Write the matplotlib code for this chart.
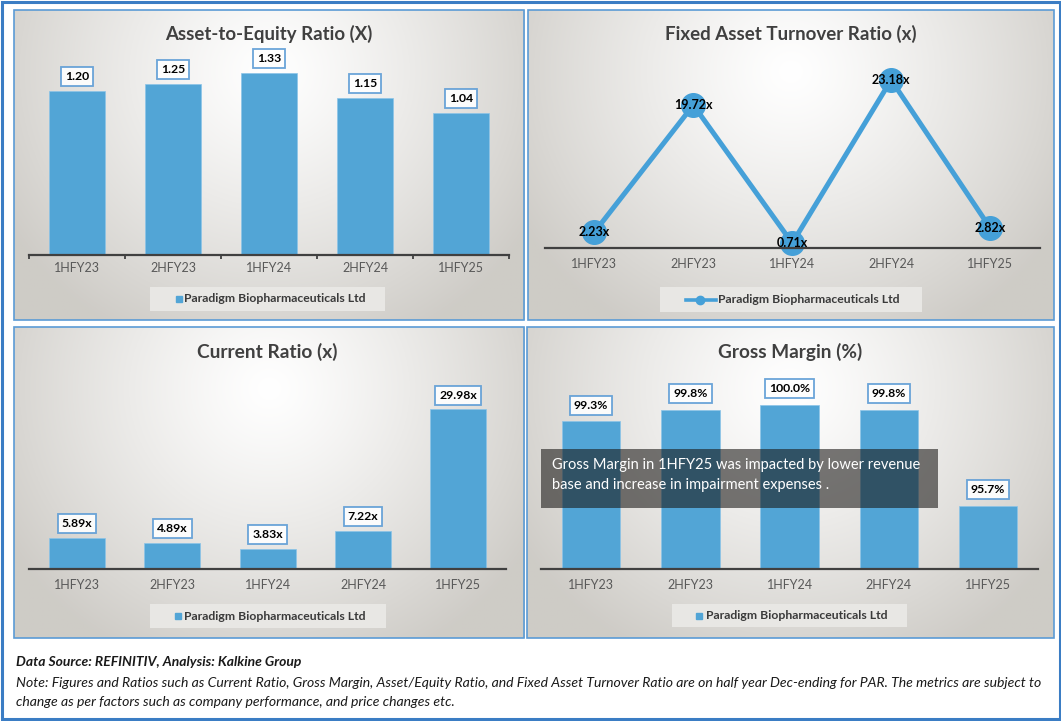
import numpy as np
import matplotlib
matplotlib.use("Agg")
from matplotlib import pyplot as plt
from matplotlib.patches import Rectangle
from matplotlib.lines import Line2D

plt.rcParams['font.family'] = ['Lato', 'DejaVu Sans']

# data
periods = ["1HFY23", "2HFY23", "1HFY24", "2HFY24", "1HFY25"]
asset_equity = [1.20, 1.25, 1.33, 1.15, 1.04]
fixed_asset_turnover = [2.23, 19.72, 0.71, 23.18, 2.82]
current_ratio = [5.89, 4.89, 3.83, 7.22, 29.98]
gross_margin = [99.3, 99.8, 100.0, 99.8, 95.7]
company = "Paradigm Biopharmaceuticals Ltd"
titles = ["Asset-to-Equity Ratio (X)", "Fixed Asset Turnover Ratio (x)",
          "Current Ratio (x)", "Gross Margin (%)"]
gm_note = ["Gross Margin in 1HFY25 was impacted by lower revenue",
           "base and increase in impairment expenses ."]
source_txt = "Data Source: REFINITIV, Analysis: Kalkine Group"
note_txt = ["Note: Figures and Ratios such as Current Ratio, Gross Margin, Asset/Equity Ratio, "
            "and Fixed Asset Turnover Ratio are on half year Dec-ending for PAR. The metrics are subject to",
            "change as per factors such as company performance, and price changes etc."]

W, H = 1061, 721
BLUE = "#52A5D6"
LINE_BLUE = "#45A0D8"
BOX_EDGE = "#5B9BD5"
AXIS_GREY = "#404040"
TXT_GREY = "#595959"

fig = plt.figure(figsize=(W / 100, H / 100), dpi=100)
fig.patch.set_facecolor("white")
renderer = fig.canvas.get_renderer()


def rect(x0, y0, x1, y1):
    # pixel box (top-left origin) -> figure fraction
    return [x0 / W, 1 - y1 / H, (x1 - x0) / W, (y1 - y0) / H]


def fx(x):
    return x / W


def fy(y):
    return 1 - y / H


def fit_width(t, width_px):
    w = t.get_window_extent(renderer).width
    t.set_fontsize(t.get_fontsize() * width_px / w)


# soft radial background like the excel chart fill
yy, xx = np.mgrid[0:1:240j, 0:1:320j]
d = np.sqrt(((xx - 0.5) / 0.6) ** 2 + ((yy - 0.2) / 0.95) ** 2)
d = np.clip(d, 0, 1) ** 1.2
edge = np.array([0.81, 0.80, 0.78])
grad = 1 - (1 - edge) * d[..., None]

panels = [(13.5, 9.5, 524, 320), (528, 9.5, 1054, 320),
          (13.5, 327, 524, 638), (527, 327, 1054, 638)]
for p in panels:
    bg = fig.add_axes(rect(*p), zorder=0)
    bg.imshow(grad, extent=[0, 1, 0, 1], aspect="auto", origin="upper")
    bg.axis("off")
    fig.patches.append(Rectangle((fx(p[0]), fy(p[3])), fx(p[2] - p[0]), (p[3] - p[1]) / H,
                                 transform=fig.transFigure, fill=False,
                                 ec=BOX_EDGE, lw=1.2, zorder=2))

# outer frame
fig.patches.append(Rectangle((fx(1.5), fy(719)), fx(1058), 717.5 / H,
                             transform=fig.transFigure, fill=False,
                             ec="#3B7DC4", lw=2.2, zorder=2))


def style_axis(ax, pad=6):
    ax.set_facecolor("none")
    for s in ["left", "right", "top"]:
        ax.spines[s].set_visible(False)
    ax.spines["bottom"].set_color(AXIS_GREY)
    ax.spines["bottom"].set_linewidth(1.6)
    ax.set_yticks([])
    ax.set_xlim(-0.5, 4.5)
    ax.set_xticks(range(len(periods)))
    ax.set_xticklabels(periods, fontsize=9, color=TXT_GREY)
    ax.tick_params(axis="x", length=0, pad=pad)


def bar_labels(ax, values, fmt, off):
    for i, v in enumerate(values):
        ax.annotate(fmt.format(v), xy=(i, v), xytext=(0, off), textcoords="offset points",
                    ha="center", va="center", fontsize=8.8, fontweight="bold", color="black",
                    bbox=dict(boxstyle="square,pad=0.33", fc="white", alpha=0.9,
                              ec=BOX_EDGE, lw=1.3), annotation_clip=False)


# Asset-to-Equity
ax1 = fig.add_axes(rect(29, 50, 509, 255), zorder=1)
ax1.bar(range(len(periods)), asset_equity, width=0.59, color=BLUE, ec="#8cc4e8", lw=0.5)
ax1.set_ylim(0, 1.5)
style_axis(ax1, pad=5)
ax1.set_xticks(np.arange(-0.5, 5, 1), minor=True)
ax1.tick_params(axis="x", which="minor", length=3, width=1.3, color=AXIS_GREY, direction="out")
bar_labels(ax1, asset_equity, "{:.2f}", 10.3)

# Fixed asset turnover
ax2 = fig.add_axes(rect(545, 50, 1039.5, 248.3), zorder=1)
ax2.plot(range(len(periods)), fixed_asset_turnover, color=LINE_BLUE, lw=3.6,
         marker="o", ms=17, mec=LINE_BLUE, clip_on=False)
ax2.set_ylim(0, 27.3)
style_axis(ax2, pad=7)
for i, v in enumerate(fixed_asset_turnover):
    ax2.annotate("{:.2f}x".format(v), xy=(i, v), ha="center", va="center",
                 fontsize=9, fontweight="bold", color="black", annotation_clip=False)

# Current ratio
ax3 = fig.add_axes(rect(29.4, 380, 506, 569.3), zorder=1)
ax3.bar(range(len(periods)), current_ratio, width=0.59, color=BLUE, ec="#8cc4e8", lw=0.5)
ax3.set_ylim(0, 35.5)
style_axis(ax3, pad=7)
bar_labels(ax3, current_ratio, "{:.2f}x", 10.3)

# Gross margin
ax4 = fig.add_axes(rect(541.4, 380, 1037.8, 569.3), zorder=1)
ax4.bar(range(len(periods)), gross_margin, width=0.59, color=BLUE, ec="#8cc4e8", lw=0.5)
ax4.set_ylim(93, 101.06)
style_axis(ax4, pad=7)
bar_labels(ax4, gross_margin, "{:.1f}%", 11.5)

# titles
title_pos = [(268.7, 34, 207), (791, 34, 251), (267.6, 352, 140), (790, 352, 144)]
for t, (cx, cy, w) in zip(titles, title_pos):
    tt = fig.text(fx(cx), fy(cy), t, ha="center", va="center", fontsize=13,
                  fontweight="bold", color=AXIS_GREY, zorder=3)
    fit_width(tt, w)

# legends
legend_boxes = [(150, 287, 385, 311, 178.5, 184, "bar"),
                (660, 287, 921.6, 312, 700, 718, "line"),
                (150, 604, 386, 628, 178, 184, "bar"),
                (672, 604, 907, 627, 699, 706, "bar")]
for x0, y0, x1, y1, mx, tx, kind in legend_boxes:
    fig.patches.append(Rectangle((fx(x0), fy(y1)), fx(x1 - x0), (y1 - y0) / H,
                                 transform=fig.transFigure, fc="#e8e7e4", ec="none", zorder=2))
    cy = fy((y0 + y1) / 2)
    if kind == "bar":
        fig.lines.append(Line2D([fx(mx)], [cy], transform=fig.transFigure, marker="s",
                                ms=5, color=BLUE, ls="none", zorder=3))
    else:
        fig.lines.append(Line2D([fx(mx - 14), fx(mx + 16)], [cy, cy], transform=fig.transFigure,
                                color=LINE_BLUE, lw=2.6, marker=None, zorder=3))
        fig.lines.append(Line2D([fx(mx)], [cy], transform=fig.transFigure, marker="o",
                                ms=6, color=LINE_BLUE, ls="none", zorder=3))
    lt = fig.text(fx(tx), cy, company, ha="left", va="center", fontsize=9,
                  fontweight="bold", color="#3a3a3a", zorder=3)
    fit_width(lt, 182)

# note box on the gross margin chart
fig.patches.append(Rectangle((fx(541.4), fy(508.3)), fx(938 - 541.4), (508.3 - 449.3) / H,
                             transform=fig.transFigure, fc="#181614", alpha=0.58,
                             ec="none", zorder=5))
n1 = fig.text(fx(552.4), fy(465.3), gm_note[0], ha="left", va="center", fontsize=11,
              color="white", zorder=6)
fit_width(n1, 367)
fig.text(fx(552.4), fy(485), gm_note[1], ha="left", va="center",
         fontsize=n1.get_fontsize(), color="white", zorder=6)

# footer
s = fig.text(fx(16), fy(662), source_txt, ha="left", va="center", fontsize=9,
             fontweight="bold", style="italic", color="#1a1a1a")
fit_width(s, 285)
nt = fig.text(fx(16), fy(683), note_txt[0], ha="left", va="center", fontsize=9,
              style="italic", color="#1a1a1a")
fit_width(nt, 1027)
fig.text(fx(16), fy(702), note_txt[1], ha="left", va="center",
         fontsize=nt.get_fontsize(), style="italic", color="#1a1a1a")

fig.savefig("out.png", dpi=100)
